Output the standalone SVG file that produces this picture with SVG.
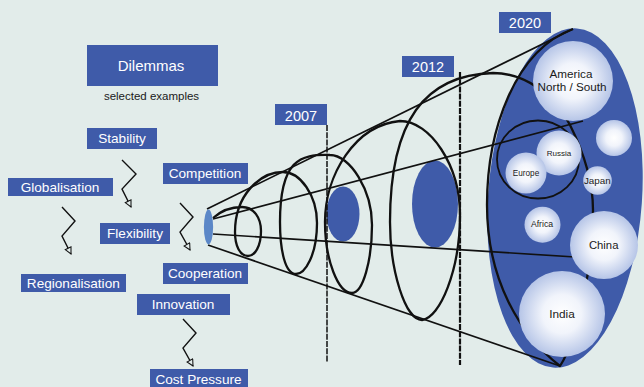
<svg xmlns="http://www.w3.org/2000/svg" width="644" height="387" viewBox="0 0 644 387">
<defs>
<style>
.box{fill:#3f5ba9}
.lbl{font-family:"Liberation Sans",Arial,sans-serif;fill:#ffffff;text-anchor:middle;font-size:13.6px}
.yr{font-family:"Liberation Sans",Arial,sans-serif;fill:#ffffff;text-anchor:middle;font-size:14.5px}
.reg{font-family:"Liberation Sans",Arial,sans-serif;fill:#1a1a1a;text-anchor:middle}
.zig{fill:none;stroke:#111;stroke-width:1.4;marker-end:url(#oa)}
.cone{fill:none;stroke:#111;stroke-width:1.7}
.helix{fill:none;stroke:#111;stroke-width:2.3;stroke-linejoin:round}
.vline{fill:none;stroke:#111}
.ball{fill:url(#lg)}
</style>
<marker id="oa" viewBox="0 0 10 10" refX="9" refY="5" markerUnits="userSpaceOnUse" markerWidth="9" markerHeight="8" orient="auto">
<path d="M1,1 L9,5 L1,9 Z" fill="#e2ecea" stroke="#111" stroke-width="1.3"/>
</marker>
<radialGradient id="lg" cx="0.5" cy="0.5" r="0.5">
<stop offset="0" stop-color="#ffffff"/>
<stop offset="0.45" stop-color="#f1f4fb"/>
<stop offset="1" stop-color="#b6c5e7"/>
</radialGradient>
</defs>
<rect x="0" y="0" width="644" height="387" fill="#e2ecea"/>

<g id="future-cone">
<ellipse cx="565" cy="198" rx="77" ry="170" transform="rotate(4 565 198)" fill="#3f5ba9"/>
<ellipse cx="343" cy="214" rx="16.5" ry="27.5" fill="#3f5ba9"/>
<ellipse cx="435" cy="204" rx="23" ry="43.5" fill="#3f5ba9"/>
</g>

<g id="year-lines">
<line class="vline" x1="327" y1="125" x2="327" y2="362" stroke-width="1.5" stroke-dasharray="6 1.2"/>
<line class="vline" x1="460" y1="72" x2="460" y2="365" stroke-width="2.2" stroke-dasharray="6 1.2"/>
</g>

<g id="connectors">
<path class="cone" d="M207,209 L573,29"/>
<path class="cone" d="M213,219 L583,121"/>
<path class="cone" d="M213,234 L575,257"/>
<path class="cone" d="M208,245 L560,366"/>
<path class="helix" d="M213,218 C222,210 232,207 242,207 C254,207 261,218 261,231 C261,246 255,256 248,256 C240,256 235,246 235,232 C235,195 260,172 283,172 C300,172 317,195 317,223 C317,255 305,274 296,274 C285,274 280,250 280,222 C280,160 300,154 330,155 C350,155 372,190 372,225 C372,260 363,293 352,293 C338,293 325,260 325,222 C325,175 355,125 400,121 C430,121 460,165 460,215 C460,270 440,318 422,320 C405,320 390,270 390,222 C390,120 425,75 493,73 C525,73 555,95 570,125 C585,155 593,185 593,210 C593,260 580,335 560,366 C520,335 487,280 487,205 C487,130 515,50 573,29"/>
<ellipse cx="538" cy="159.5" rx="41" ry="39" fill="none" stroke="#111" stroke-width="1.8"/>
<path class="zig" d="M122,160 L136,174 L122,189 L131,207"/>
<path class="zig" d="M62,207 L75,221 L62,236 L71,254"/>
<path class="zig" d="M180,203 L193,217 L180,232 L190,250"/>
<path class="zig" d="M183,319 L196,333 L183,348 L193,366"/>
</g>

<g id="start">
<ellipse cx="208.5" cy="227" rx="4.6" ry="17.5" fill="#5b87c7"/>
</g>

<g id="america"><circle class="ball" cx="573" cy="81" r="40"/><text class="reg" font-size="11.7" x="571" y="77.5">America</text><text class="reg" font-size="11.7" x="572" y="91">North / South</text></g>
<g id="unnamed"><circle class="ball" cx="614" cy="138" r="18"/></g>
<g id="russia"><circle class="ball" cx="559" cy="153" r="22.5"/><text class="reg" font-size="8" x="559" y="155.7">Russia</text></g>
<g id="europe"><circle class="ball" cx="526" cy="173" r="20.5"/><text class="reg" font-size="8.2" x="526" y="175.7">Europe</text></g>
<g id="japan"><circle class="ball" cx="597.5" cy="180.5" r="14.3"/><text class="reg" font-size="9.8" x="597.3" y="183.6">Japan</text></g>
<g id="africa"><circle class="ball" cx="542.5" cy="224.7" r="18"/><text class="reg" font-size="8.7" x="542" y="227.4">Africa</text></g>
<g id="china"><circle class="ball" cx="604" cy="245" r="34"/><text class="reg" font-size="11.3" x="603.7" y="249">China</text></g>
<g id="india"><circle class="ball" cx="562" cy="314" r="43"/><text class="reg" font-size="11.8" x="562" y="317.7">India</text></g>

<g id="dilemmas"><rect class="box" x="87" y="45" width="131" height="41"/><text class="lbl" font-size="15" style="font-size:15px" x="151" y="71">Dilemmas</text></g>
<g id="subtitle"><text font-family="Liberation Sans, Arial, sans-serif" font-size="11.5" fill="#1a1a1a" text-anchor="middle" x="151.5" y="100">selected examples</text></g>
<g id="stability"><rect class="box" x="87" y="128" width="70" height="21"/><text class="lbl" x="122" y="143.3">Stability</text></g>
<g id="competition"><rect class="box" x="163" y="163" width="85" height="21"/><text class="lbl" x="205" y="178.3">Competition</text></g>
<g id="globalisation"><rect class="box" x="8" y="178" width="105" height="18"/><text class="lbl" x="60" y="192.3">Globalisation</text></g>
<g id="flexibility"><rect class="box" x="100" y="223" width="70" height="21"/><text class="lbl" x="135" y="237.7">Flexibility</text></g>
<g id="regionalisation"><rect class="box" x="21" y="274" width="105" height="18"/><text class="lbl" x="73.3" y="288.3">Regionalisation</text></g>
<g id="cooperation"><rect class="box" x="163" y="263" width="85" height="21"/><text class="lbl" x="205" y="278.3">Cooperation</text></g>
<g id="innovation"><rect class="box" x="137" y="294" width="93" height="21"/><text class="lbl" x="183" y="309">Innovation</text></g>
<g id="cost-pressure"><rect class="box" x="150" y="369" width="98" height="21"/><text class="lbl" x="198.5" y="384">Cost Pressure</text></g>
<g id="y2007"><rect class="box" x="275" y="104" width="52" height="21"/><text class="yr" x="301" y="120.5">2007</text></g>
<g id="y2012"><rect class="box" x="402" y="56" width="52" height="21"/><text class="yr" x="428" y="72.3">2012</text></g>
<g id="y2020"><rect class="box" x="499" y="12" width="52" height="21"/><text class="yr" x="525" y="27.5">2020</text></g>
</svg>
